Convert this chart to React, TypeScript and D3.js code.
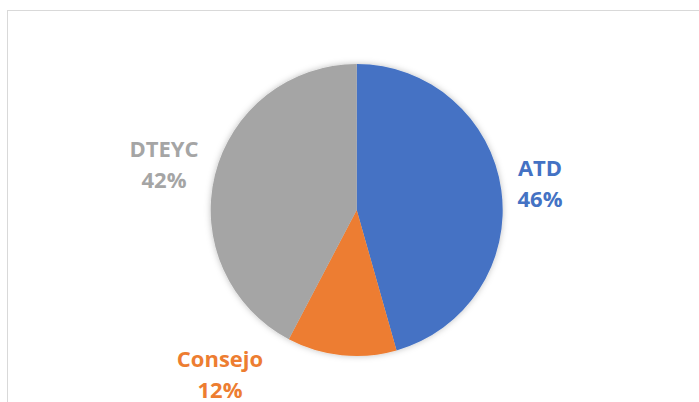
import React, { useEffect, useRef } from "react";
import * as d3 from "d3";

const categories = ["ATD", "Consejo", "DTEYC"];
const values = [45.6, 12.1, 42.3];
const percentLabels = ["46%", "12%", "42%"];
const colors = ["#4472C4", "#ED7D31", "#A5A5A5"];
// label anchor points (centre x, baseline of first line) for each slice
const labelSpots = [
  [540, 176],
  [220, 367],
  [164, 157],
];

const App = () => {
  const ref = useRef<SVGSVGElement>(null);

  useEffect(() => {
    const width = 699;
    const height = 402;
    const cx = 356.7;
    const cy = 210;
    const radius = 146;

    const svg = d3.select(ref.current);
    svg.selectAll("*").remove();

    // soft shadow like the office chart
    const defs = svg.append("defs");
    const filter = defs
      .append("filter")
      .attr("id", "shadow")
      .attr("x", "-10%")
      .attr("y", "-10%")
      .attr("width", "120%")
      .attr("height", "120%");
    filter
      .append("feDropShadow")
      .attr("dx", 0)
      .attr("dy", 0)
      .attr("stdDeviation", 3)
      .attr("flood-color", "#000")
      .attr("flood-opacity", 0.25);

    svg
      .append("rect")
      .attr("width", width)
      .attr("height", height)
      .attr("fill", "#fff");

    // chart frame
    svg
      .append("rect")
      .attr("x", 7.5)
      .attr("y", 10.5)
      .attr("width", 720)
      .attr("height", 420)
      .attr("fill", "none")
      .attr("stroke", "#d9d9d9")
      .attr("stroke-width", 1);

    const pie = d3
      .pie<number>()
      .sort(null)
      .value((d) => d);
    const arc = d3
      .arc<d3.PieArcDatum<number>>()
      .innerRadius(0)
      .outerRadius(radius);

    const g = svg
      .append("g")
      .attr("transform", `translate(${cx},${cy})`)
      .attr("filter", "url(#shadow)");

    g.selectAll("path")
      .data(pie(values))
      .enter()
      .append("path")
      .attr("d", arc)
      .attr("fill", (_, i) => colors[i]);

    const labels = svg
      .selectAll(".lbl")
      .data(categories)
      .enter()
      .append("text")
      .attr("class", "lbl")
      .attr("text-anchor", "middle")
      .attr("font-family", "'Open Sans', sans-serif")
      .attr("font-weight", "bold")
      .attr("font-size", 22)
      .attr("fill", (_, i) => colors[i]);

    labels
      .append("tspan")
      .attr("x", (_, i) => labelSpots[i][0])
      .attr("y", (_, i) => labelSpots[i][1])
      .text((d) => d);
    labels
      .append("tspan")
      .attr("x", (_, i) => labelSpots[i][0])
      .attr("dy", 31)
      .text((_, i) => percentLabels[i]);
  }, []);

  return (
    <svg
      ref={ref}
      width={699}
      height={402}
      style={{ position: "absolute", left: 0, top: 0, display: "block" }}
    ></svg>
  );
};

export default App;
